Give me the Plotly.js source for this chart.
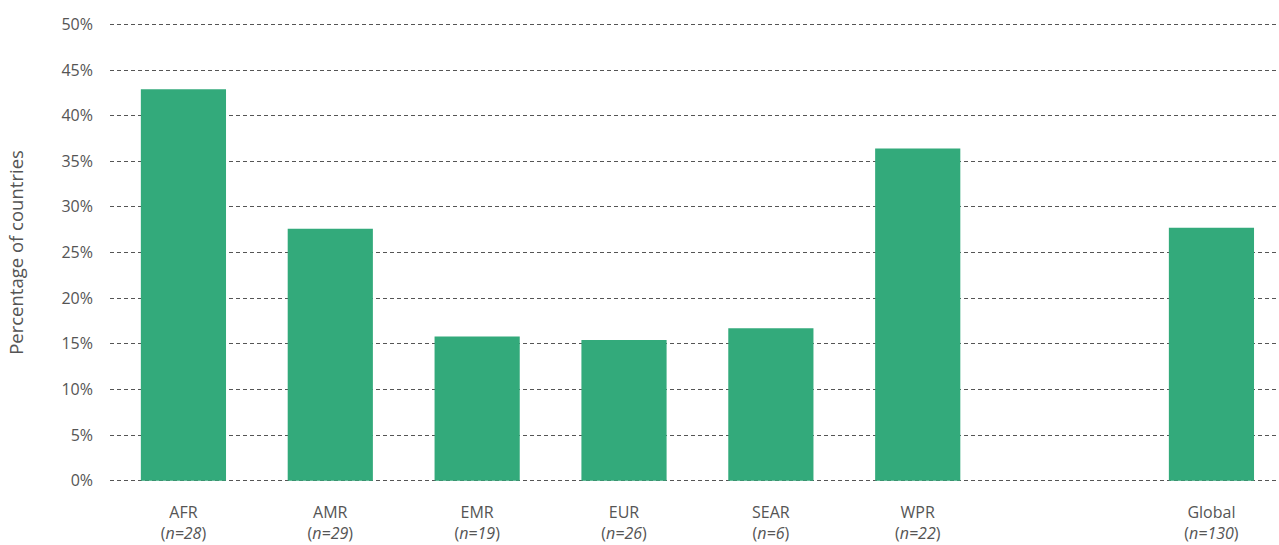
<!DOCTYPE html>
<html>
<head>
<meta charset="utf-8">
<script src="https://cdn.plot.ly/plotly-3.0.1.min.js"></script>
<style>html,body{margin:0;padding:0;background:#fff;}#chart{width:1279px;height:545px;}</style>
</head>
<body>
<div id="chart"></div>
<script>
const regions = ['AFR', 'AMR', 'EMR', 'EUR', 'SEAR', 'WPR', '', 'Global'];
const sampleSizes = ['28', '29', '19', '26', '6', '22', '', '130'];
const percentages = [42.9, 27.6, 15.8, 15.4, 16.7, 36.4, null, 27.7];
const yTickVals = [0, 5, 10, 15, 20, 25, 30, 35, 40, 45, 50];

const labels = regions.map((r, i) => r ? r + '<br>(<i>n=' + sampleSizes[i] + '</i>)' : ' ');

const trace = {
  type: 'bar',
  x: labels,
  y: percentages,
  marker: {color: '#33aa7b'},
  hoverinfo: 'skip'
};

const layout = {
  width: 1279, height: 545,
  margin: {l: 110, r: 0, t: 23, b: 63},
  paper_bgcolor: '#fff', plot_bgcolor: '#fff',
  font: {family: 'Open Sans, sans-serif', color: '#555', size: 16},
  bargap: 0.42,
  showlegend: false,
  xaxis: {
    type: 'category',
    categoryorder: 'array',
    categoryarray: labels,
    range: [-0.5, 7.46],
    showgrid: false, zeroline: false, showline: false,
    ticks: '',
    ticklabelstandoff: 19,
    tickfont: {size: 16, color: '#555'}
  },
  yaxis: {
    range: [-0.15, 50.15],
    tickvals: yTickVals,
    ticktext: yTickVals.map(v => v + '%'),
    showgrid: true, gridcolor: '#555', gridwidth: 1, griddash: '4px,3px',
    zeroline: false, showline: false,
    ticks: '',
    ticklabelstandoff: 16,
    tickfont: {size: 16, color: '#555'},
    title: {text: 'Percentage of countries', font: {size: 18.5, color: '#555'}, standoff: 32}
  }
};

Plotly.newPlot('chart', [trace], layout, {displayModeBar: false, staticPlot: true});
</script>
</body>
</html>
